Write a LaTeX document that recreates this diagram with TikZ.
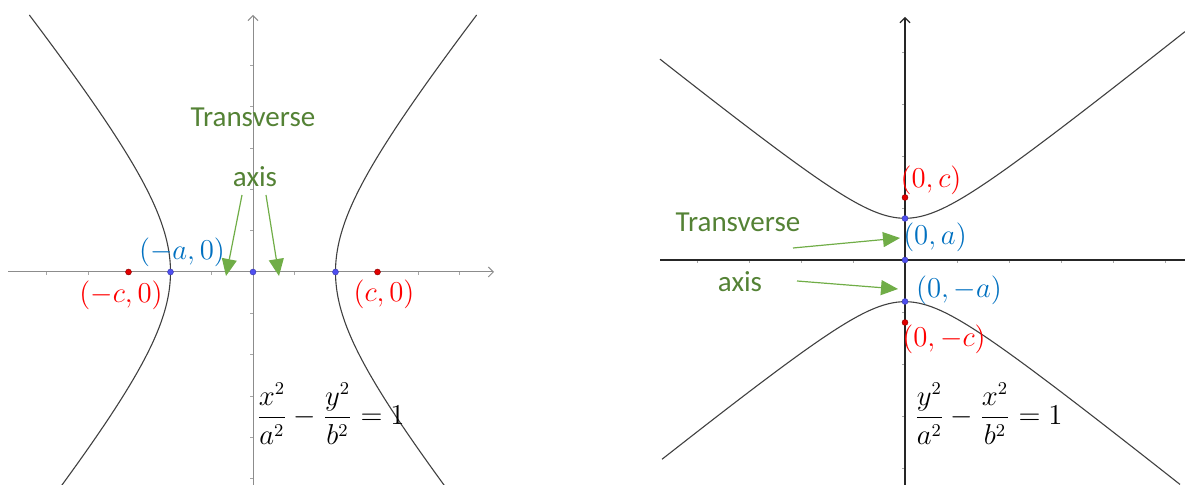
\documentclass[tikz,border=0pt]{standalone}
\usepackage{amsmath}
\usepackage{fontspec}
\setmainfont{Carlito}
\usetikzlibrary{arrows.meta}

\definecolor{txtgreen}{HTML}{548235}
\definecolor{arrgreen}{HTML}{70AD47}
\definecolor{lblblue}{HTML}{0070C0}
\definecolor{lblred}{HTML}{FF0000}
\definecolor{ptblue}{HTML}{4F4FF0}
\definecolor{ptred}{HTML}{E00000}

\tikzset{
    curve/.style={draw=black!75, line width=0.55pt},
    axisgray/.style={draw=black!45, line width=0.5pt, -{Straight Barb[length=2.5pt,width=5pt]}},
    axisdark/.style={draw=black!85, line width=0.55pt},
    tickmark/.style={draw=black!35, line width=0.3pt},
    pointer/.style={draw=arrgreen, line width=0.6pt, -{Triangle[length=8.5pt,width=7.5pt]}},
    greentext/.style={text=txtgreen, font=\fontsize{14.5}{17}\selectfont, inner sep=0pt, anchor=base},
    mlabel/.style={font=\fontsize{14}{17}\selectfont, inner sep=0pt, anchor=base},
    eqnlabel/.style={font=\fontsize{13.5}{16}\selectfont, inner sep=0pt, anchor=west},
    bdot/.style={circle, fill=ptblue, draw=ptblue!70!black, line width=0.2pt, inner sep=0pt, minimum size=3pt},
    rdot/.style={circle, fill=ptred, draw=ptred!60!black, line width=0.2pt, inner sep=0pt, minimum size=3pt}
}

\begin{document}
\begin{tikzpicture}[x=0.5pt, y=-0.5pt]
    \useasboundingbox (0,0) rectangle (1185,485);

    % left: x^2/a^2 - y^2/b^2 = 1
    \coordinate (lxs) at (8,272);
    \coordinate (lxe) at (494,272);
    \coordinate (lys) at (253,485);
    \coordinate (lye) at (253,15);
    \foreach \k in {-5,...,-1,1,2,...,5} {
        \draw[tickmark] ({253+41.3*\k},272) -- ({253+41.3*\k},275);
        \draw[tickmark] (250,{272+41.3*\k}) -- (253,{272+41.3*\k});
    }
    \draw[axisgray] (lxs) -- (lxe);
    \draw[axisgray] (lys) -- (lye);

    \draw[curve] plot[domain=-215:257, samples=120, variable=\s] ({253-82.5*sqrt(1+(\s/102)^2)},{272-\s});
    \draw[curve] plot[domain=-215:257, samples=120, variable=\s] ({253+82.5*sqrt(1+(\s/102)^2)},{272-\s});

    \node[rdot] (lfocL) at (128.5,272) {};
    \node[rdot] (lfocR) at (377.5,272) {};
    \node[bdot] (lvtxL) at (170.5,272) {};
    \node[bdot] (lvtxR) at (335.5,272) {};
    \node[bdot] (lorig) at (253,272) {};

    \node[greentext] (ltrans) at (253,127) {Transverse};
    \node[greentext] (laxis) at (255,187) {axis};
    \coordinate (lptrAs) at (242,195);
    \coordinate (lptrAe) at (226,276);
    \coordinate (lptrBs) at (266,195);
    \coordinate (lptrBe) at (279,276);
    \draw[pointer] (lptrAs) -- (lptrAe);
    \draw[pointer] (lptrBs) -- (lptrBe);

    \node[mlabel, text=lblblue] (lblA) at (182,260) {$(-a,0)$};
    \node[mlabel, text=lblred] (lblCL) at (121,303) {$(-c,0)$};
    \node[mlabel, text=lblred] (lblCR) at (384,302) {$(c,0)$};
    \node[eqnlabel] (leqn) at (256,414) {$\dfrac{x^2}{a^2}-\dfrac{y^2}{b^2}=1$};

    % right: y^2/a^2 - x^2/b^2 = 1
    \coordinate (rxs) at (660,260);
    \coordinate (rxe) at (1185,260);
    \coordinate (rys) at (905,485);
    \coordinate (rye) at (905,17);
    \foreach \k in {-4,...,-1,1,2,...,5} {
        \draw[tickmark] ({905+52*\k},260) -- ({905+52*\k},263);
    }
    \foreach \k in {-4,...,-1,1,2,...,4} {
        \draw[tickmark] (902,{260+52*\k}) -- (905,{260+52*\k});
    }
    \draw[axisdark] (rxs) -- (rxe);
    \draw[axisdark, -{Straight Barb[length=2.5pt,width=5pt]}] (rys) -- (rye);

    \draw[curve] plot[domain=-245:280, samples=120, variable=\s] ({905+\s},{260-41.7*sqrt(1+(\s/52)^2)});
    \draw[curve] plot[domain=-243:275, samples=120, variable=\s] ({905+\s},{260+41.7*sqrt(1+(\s/52)^2)});

    \node[rdot] (rfocT) at (905,197.5) {};
    \node[rdot] (rfocB) at (905,322.5) {};
    \node[bdot] (rvtxT) at (905,218.5) {};
    \node[bdot] (rvtxB) at (905,301.5) {};
    \node[bdot] (rorig) at (905,260) {};

    \node[greentext] (rtrans) at (738,232) {Transverse};
    \node[greentext] (raxis) at (740,292) {axis};
    \coordinate (rptrAs) at (793,248);
    \coordinate (rptrAe) at (900,238);
    \coordinate (rptrBs) at (797,281);
    \coordinate (rptrBe) at (898,289);
    \draw[pointer] (rptrAs) -- (rptrAe);
    \draw[pointer] (rptrBs) -- (rptrBe);

    \node[mlabel, text=lblred] (rlblCT) at (931,188) {$(0,c)$};
    \node[mlabel, text=lblblue] (rlblAT) at (935,245) {$(0,a)$};
    \node[mlabel, text=lblblue] (rlblAB) at (959,298) {$(0,-a)$};
    \node[mlabel, text=lblred] (rlblCB) at (944,347) {$(0,-c)$};
    \node[eqnlabel] (reqn) at (914,414) {$\dfrac{y^2}{a^2}-\dfrac{x^2}{b^2}=1$};
\end{tikzpicture}
\end{document}
